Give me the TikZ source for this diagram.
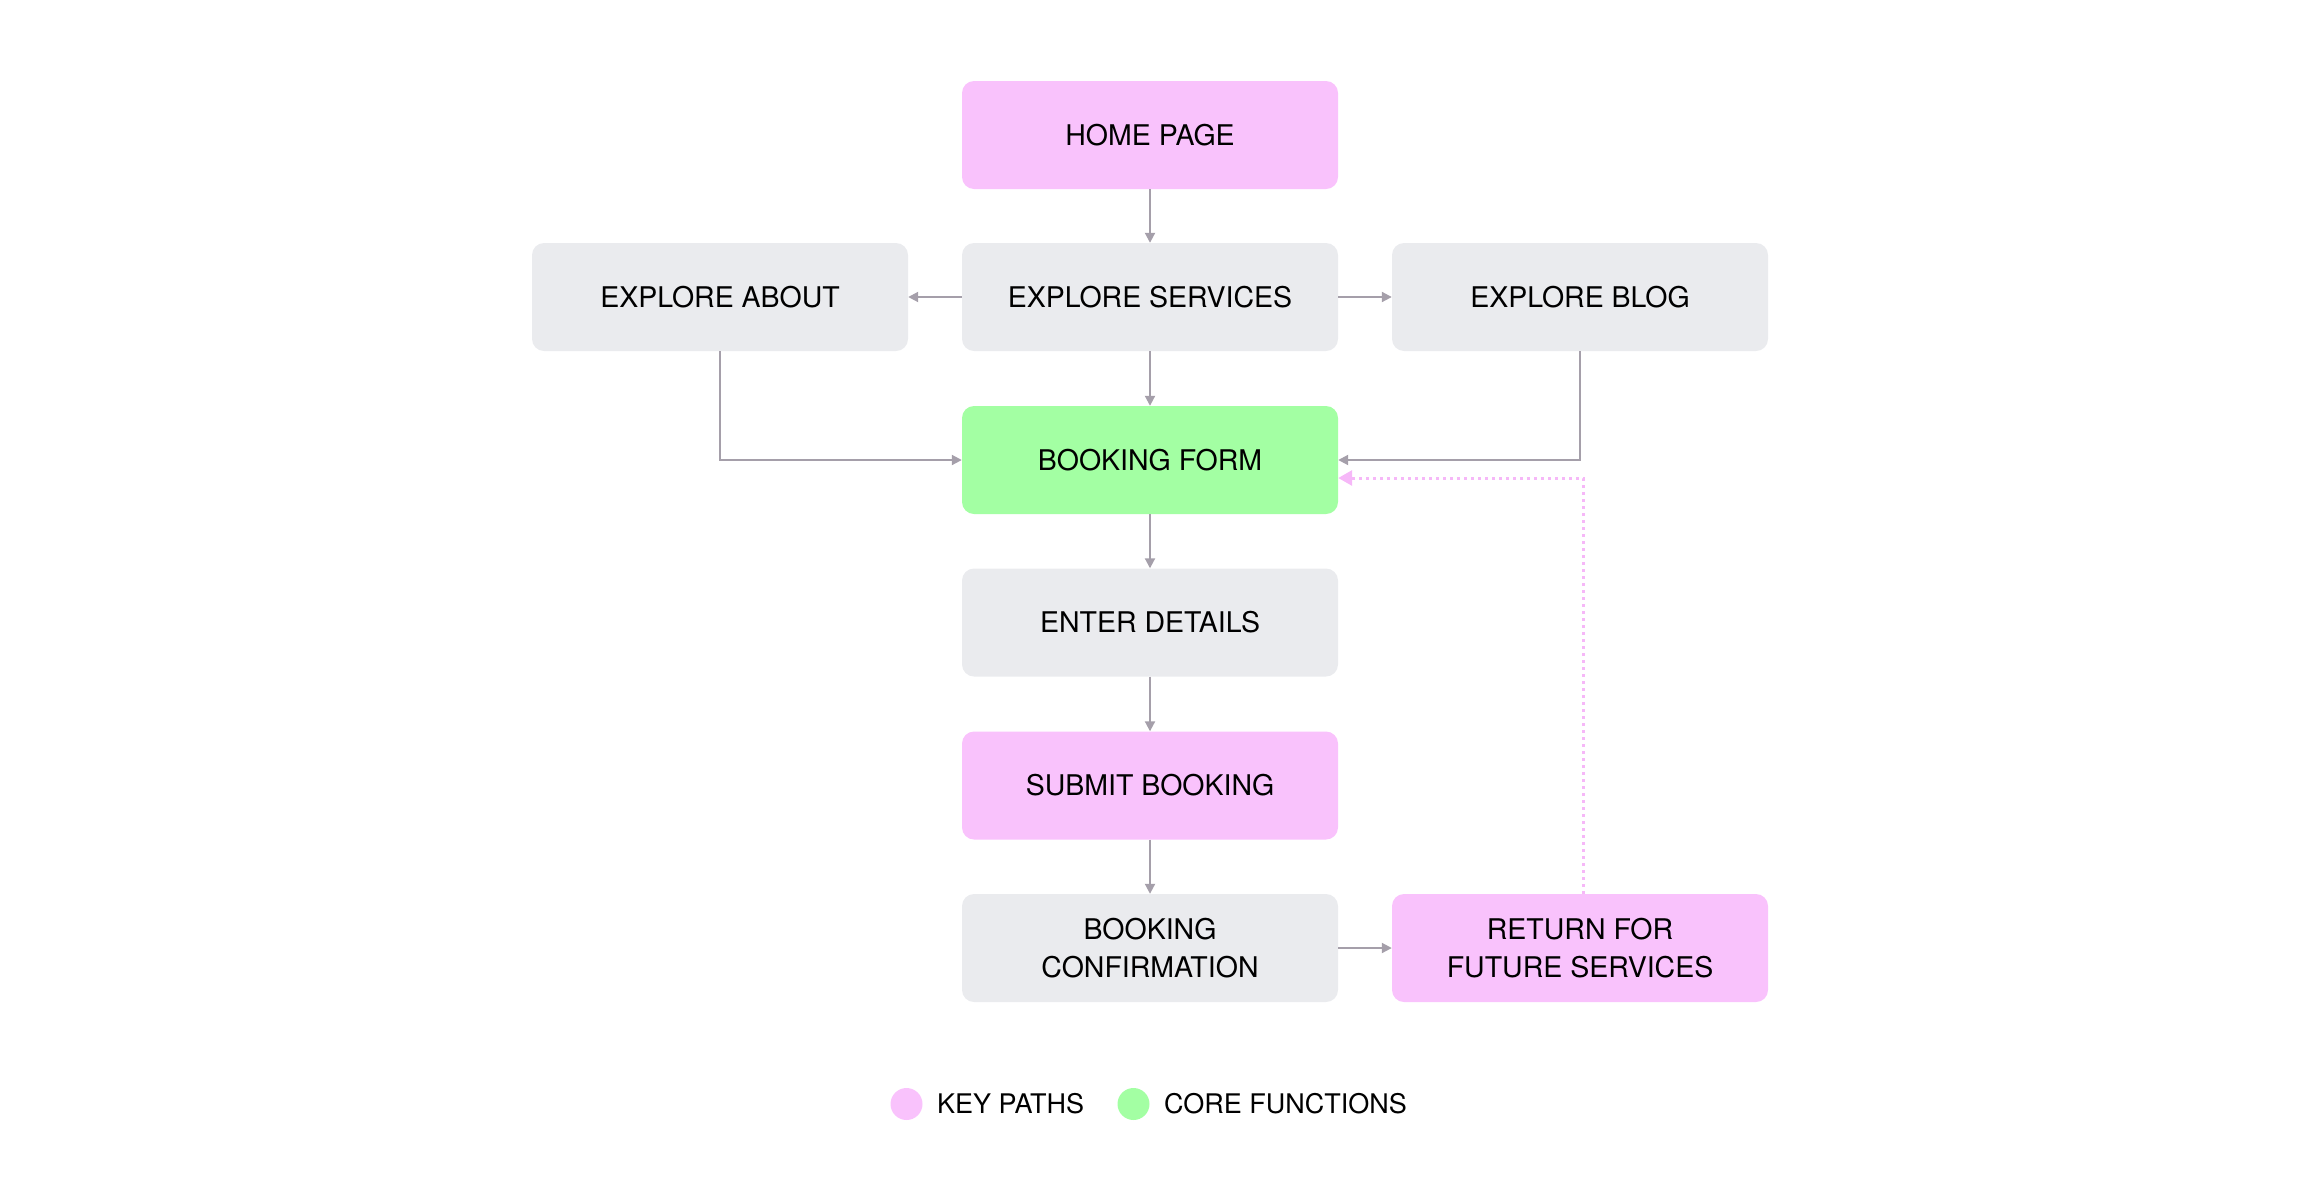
\documentclass[tikz,border=0pt]{standalone}
\usepackage{fontspec}
\setmainfont{TeX Gyre Heros}
\usetikzlibrary{arrows.meta}
\definecolor{pinkc}{HTML}{F9C2FC}
\definecolor{greenc}{HTML}{A3FFA3}
\definecolor{grayc}{HTML}{EAEBEE}
\definecolor{linec}{HTML}{A59FAA}
\definecolor{dotpink}{HTML}{F6B8F8}
\begin{document}
\begin{tikzpicture}[x=1pt,y=-1pt,
  box/.style={rounded corners=12pt, minimum width=376pt, minimum height=108pt,
    inner sep=0pt, font=\fontsize{28.5}{38}\selectfont, align=center, text=black},
  keybox/.style={box, fill=pinkc},
  corebox/.style={box, fill=greenc},
  plainbox/.style={box, fill=grayc},
  conn/.style={draw=linec, line width=2pt, -{Triangle[length=10pt,width=10pt]}},
  dotconn/.style={draw=dotpink, line width=3pt, dash pattern=on 3pt off 4pt,
    -{Triangle[length=14pt,width=15pt,fill=dotpink]}},
  legdot/.style={circle, minimum size=32pt, inner sep=0pt},
  legtext/.style={anchor=west, inner sep=0pt, font=\fontsize{27}{32}\selectfont}
]
\useasboundingbox (0,0) rectangle (2300,1200);

\node[keybox]   (home)     at (1150,135)   {HOME PAGE};
\node[plainbox] (about)    at (720,297)    {EXPLORE ABOUT};
\node[plainbox] (services) at (1150,297)   {EXPLORE SERVICES};
\node[plainbox] (blog)     at (1580,297)   {EXPLORE BLOG};
\node[corebox]  (form)     at (1150,460)   {BOOKING FORM};
\node[plainbox] (details)  at (1150,622.5) {ENTER DETAILS};
\node[keybox]   (submit)   at (1150,785.5) {SUBMIT BOOKING};
\node[plainbox] (confirm)  at (1150,948)   {BOOKING\\CONFIRMATION};
\node[keybox]   (return)   at (1580,948)   {RETURN FOR\\FUTURE SERVICES};

\draw[conn] (home) -- (services);
\draw[conn] (services) -- (about);
\draw[conn] (services) -- (blog);
\draw[conn] (services) -- (form);
\draw[conn] (about.south) |- (form.west);
\draw[conn] (blog.south) |- (form.east);
\draw[conn] (form) -- (details);
\draw[conn] (details) -- (submit);
\draw[conn] (submit) -- (confirm);
\draw[conn] (confirm) -- (return);
\draw[dotconn] ([xshift=3pt]return.north) |- ([yshift=-18pt]form.east);

\node[legdot, fill=pinkc]  (lkey)  at (906.5,1104) {};
\node[legtext] (lkeyt)  at (937,1104) {KEY PATHS};
\node[legdot, fill=greenc] (lcore) at (1133.5,1104) {};
\node[legtext] (lcoret) at (1164,1104) {CORE FUNCTIONS};
\end{tikzpicture}
\end{document}
